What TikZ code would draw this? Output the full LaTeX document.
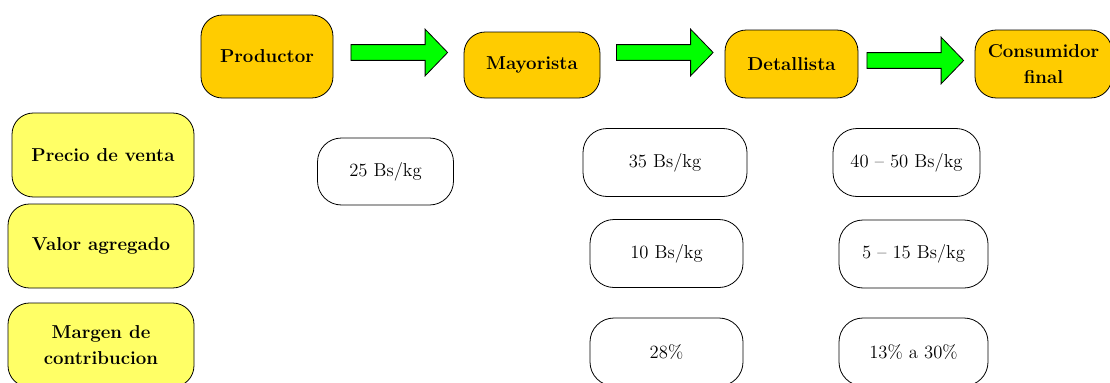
\documentclass[tikz,border=0pt]{standalone}
\usepackage{tikz}
\usetikzlibrary{shapes.arrows,positioning}

\definecolor{Naranja}{HTML}{FFCC00}
\definecolor{Amarillo}{HTML}{FFFF66}
\definecolor{Verde}{HTML}{00FF00}

\begin{document}
\begin{tikzpicture}[
  x=0.75pt,y=-0.75pt,thin,
  actor/.style={rectangle,rounded corners=16pt,draw=black,line width=0.6pt,
    fill=Naranja,align=center,inner sep=2pt,
    font=\fontsize{14}{19}\selectfont\bfseries},
  fila/.style={rectangle,rounded corners=16pt,draw=black,line width=0.6pt,
    fill=Amarillo,align=center,inner sep=2pt,
    minimum width=139.5pt,minimum height=63pt,
    font=\fontsize{14}{19}\selectfont\bfseries},
  valor/.style={rectangle,rounded corners=18pt,draw=black,line width=0.6pt,
    fill=white,align=center,inner sep=2pt,minimum height=51pt,
    font=\fontsize{14}{19}\selectfont},
  flecha/.style={single arrow,draw=black,line width=0.6pt,fill=Verde,
    inner xsep=0pt,inner ysep=5.6pt,minimum height=72.5pt,
    single arrow head extend=11.6pt,single arrow tip angle=92}
  ]

  \useasboundingbox (0,0) rectangle (1110,382);
  \clip (0,0) rectangle (1110,382);

  % cadena de comercializacion
  \node[actor,minimum width=99pt,minimum height=62.25pt] (prod) at (267,56.5) {Productor};
  \node[actor,minimum width=102pt,minimum height=49.5pt] (may)  at (532,65)   {Mayorista};
  \node[actor,minimum width=99.75pt,minimum height=51pt] (det)  at (791.5,64) {Detallista};
  \node[actor,minimum width=102.75pt,minimum height=51pt] (cons) at (1043.5,64) {Consumidor\\final};

  \node[flecha] (f1) at (395.5,52.5) {};
  \node[flecha] (f2) at (661,52.5)   {};
  \node[flecha] (f3) at (911.5,60.5) {};

  % filas
  \node[fila,minimum width=136.5pt] (precio) at (103,155) {Precio de venta};
  \node[fila] (agregado) at (101,246) {Valor agregado};
  \node[fila] (margen)   at (101,345) {Margen de\\contribucion};

  % valores
  \node[valor,minimum width=102pt,minimum height=50.25pt] (v25)  at (385.5,171.5) {25 Bs/kg};
  \node[valor,minimum width=123pt]    (v35)  at (665,162.5)   {35 Bs/kg};
  \node[valor,minimum width=110.25pt] (v40)  at (906.5,162.5) {40 -- 50 Bs/kg};
  \node[valor,minimum width=114.75pt] (v10)  at (666.5,253.5) {10 Bs/kg};
  \node[valor,minimum width=111.75pt] (v5)   at (913.5,254)   {5 -- 15 Bs/kg};
  \node[valor,minimum width=114.75pt] (v28)  at (666.5,352)   {28\%};
  \node[valor,minimum width=111.75pt] (v13)  at (913.5,352)   {13\% a 30\%};
\end{tikzpicture}
\end{document}
